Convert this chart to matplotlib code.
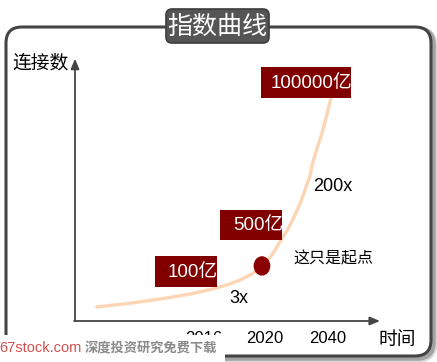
import matplotlib
matplotlib.use("Agg")
import matplotlib.pyplot as plt
from matplotlib.patches import FancyBboxPatch, Rectangle, Ellipse

# schematic exponential curve (0..100 on both axes)
curve_x = [7.2, 16.0, 23.6, 31.0, 37.7, 45.2, 50.0, 54.1, 58.0, 61.3, 64.5, 67.2, 70.0, 72.1, 74.0, 75.4, 77.0, 78.0, 79.6, 81.0, 82.5, 83.9]
curve_y = [5.4, 6.5, 7.7, 9.0, 10.3, 12.3, 13.9, 15.7, 18.0, 21.1, 25.2, 30.3, 35.6, 40.6, 45.5, 50.2, 55.5, 60.9, 67.0, 72.0, 78.6, 85.4]

# "this is only the start" point
start_x = 61.3
start_y = 21.1

tick_labels = ["2016", "2020", "2040"]
tick_pos = [42.3, 62.3, 83.0]

value_labels = ["100亿", "500亿", "100000亿"]
growth_labels = ["3x", "200x"]

CJK = ["Liberation Sans", "Noto Sans CJK SC", "DejaVu Sans"]
plt.rcParams["font.family"] = CJK

fig = plt.figure(figsize=(4.37, 3.62), dpi=100)

# background layer in pixel units
bg = fig.add_axes([0, 0, 1, 1])
bg.set_xlim(0, 437)
bg.set_ylim(362, 0)
bg.axis("off")

# rounded frame with a soft shadow
for off, lw, a in [(3, 5, 0.15), (2, 4, 0.25)]:
    bg.add_patch(FancyBboxPatch((6 + off, 27 + off), 425, 329,
                                boxstyle="round,pad=0,rounding_size=16",
                                fc="none", ec="black", lw=lw, alpha=a))
bg.add_patch(FancyBboxPatch((6, 27), 425, 329,
                            boxstyle="round,pad=0,rounding_size=16",
                            fc="white", ec="#444444", lw=2.2))

# title tab
bg.add_patch(FancyBboxPatch((166, 9), 103, 34,
                            boxstyle="round,pad=0,rounding_size=6",
                            fc="#555555", ec="#3c3c3c", lw=1.2, zorder=5))
bg.text(217.5, 26.5, "指数曲线", color="white", fontsize=18,
        ha="center", va="center", zorder=6)

bg.text(12, 64, "连接数", fontsize=13.5, ha="left", va="center")
bg.text(378, 340, "时间", fontsize=13.5, ha="left", va="center")

# plot area
ax = fig.add_axes([75 / 437, 41 / 362, 305 / 437, 261 / 362])
ax.set_xlim(0, 100)
ax.set_ylim(0, 100)
ax.patch.set_alpha(0)
for s in ax.spines.values():
    s.set_visible(False)

arrow = dict(arrowstyle="-|>,head_length=0.6,head_width=0.25",
             color="#444444", lw=1.3, shrinkA=0, shrinkB=0)
ax.annotate("", xy=(0, 1.005), xytext=(0, 0), xycoords="axes fraction",
            arrowprops=arrow)
ax.annotate("", xy=(1.0, 0), xytext=(-0.003, 0), xycoords="axes fraction",
            arrowprops=arrow)

ax.set_yticks([])
ax.set_xticks(tick_pos, tick_labels, fontsize=12)
ax.tick_params(axis="x", length=0, pad=7)

ax.plot(curve_x, curve_y, color="#FCD5B4", lw=2.4, solid_capstyle="round", zorder=2)
ax.add_patch(Ellipse((start_x, start_y), 5.0, 6.9, color="#8B0000", zorder=4))

# value boxes: (right edge x, center y, width, height) in data units
boxes = [(46.6, 19.0, 20.3, 11.9), (67.9, 36.8, 20.3, 11.5), (90.5, 91.4, 29.5, 11.9)]
for (rx, cy, w, h), lab in zip(boxes, value_labels):
    ax.add_patch(Rectangle((rx - w, cy - h / 2), w, h, fc="#800000", ec="none", zorder=5))
    ax.text(rx + 0.3, cy - 0.3, lab, color="white", fontsize=13.5,
            ha="right", va="center", zorder=6)

ax.text(53.8, 8.8, growth_labels[0], fontsize=13, ha="center", va="center")
ax.text(78.0, 51.7, growth_labels[1], fontsize=13, ha="left", va="center")
ax.text(71.5, 23.8, "这只是起点", fontsize=11.5, ha="left", va="center")

# watermark strip at bottom left
fg = fig.add_axes([0, 0, 1, 1])
fg.set_xlim(0, 437)
fg.set_ylim(362, 0)
fg.axis("off")
fg.add_patch(Rectangle((0, 335), 225, 27, fc="white", ec="none"))
fg.text(-1, 348, "67stock.com", color="#d2504e", fontsize=10.5, ha="left", va="center")
fg.text(85, 348, "深度投资研究免费下载", color="#8a8a8a", fontsize=9.5,
        fontweight="bold", ha="left", va="center")

fig.savefig("out.png", dpi=100)
